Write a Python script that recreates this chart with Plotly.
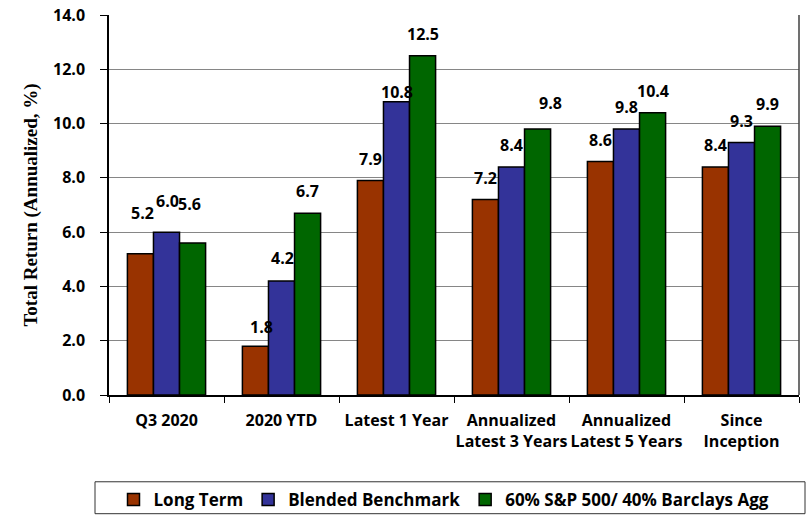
import plotly.graph_objects as go

categories = ["Q3 2020", "2020 YTD", "Latest 1 Year", "Annualized<br>Latest 3 Years",
              "Annualized<br>Latest 5 Years", "Since<br>Inception"]
series_names = ["Long Term", "Blended Benchmark", "60% S&P 500/ 40% Barclays Agg"]
long_term = [5.2, 1.8, 7.9, 7.2, 8.6, 8.4]
blended = [6.0, 4.2, 10.8, 8.4, 9.8, 9.3]
sp_barclays = [5.6, 6.7, 12.5, 9.8, 10.4, 9.9]
y_ticks = [0, 2, 4, 6, 8, 10, 12, 14]

colors = ["#993300", "#333399", "#006600"]
series_values = [long_term, blended, sp_barclays]

# label nudges (px) mimicking the reference's label placement: (series, category) -> (dx, dy)
label_nudges = {
    (0, 0): (2, 19), (1, 0): (1, 9), (2, 0): (-3, 17),
    (0, 1): (6, -3), (1, 1): (1, 1),
    (1, 2): (0, -12),
    (2, 3): (13, 4),
}

W, H = 806, 524
M = dict(l=109, r=7, t=15, b=128)
BARGAP = 0.32
plot_w = W - M["l"] - M["r"]
plot_h = H - M["t"] - M["b"]
bar_w = plot_w / len(categories) * (1 - BARGAP) / 3

FONT = "Open Sans"

fig = go.Figure()
for name, vals, col in zip(series_names, series_values, colors):
    fig.add_trace(go.Bar(
        x=categories, y=vals, name=name,
        marker=dict(color=col, line=dict(color="#000000", width=1.5)),
    ))

annotations = []
for si, vals in enumerate(series_values):
    for ci, v in enumerate(vals):
        dx, dy = label_nudges.get((si, ci), (0, 0))
        annotations.append(dict(
            x=categories[ci], y=v, xref="x", yref="y",
            text=f"{v:.1f}", showarrow=False,
            xshift=(si - 1) * bar_w + dx, yshift=22 + dy,
            font=dict(family=FONT, size=16, color="#000000", weight="bold"),
        ))

def px_to_paper_x(px):
    return (px - M["l"]) / plot_w

def px_to_paper_y(py):
    return (H - M["b"] - py) / plot_h

fig.update_layout(
    width=W, height=H,
    margin=M,
    paper_bgcolor="white", plot_bgcolor="white",
    barmode="group", bargap=BARGAP, bargroupgap=0,
    font=dict(family=FONT, color="#000000"),
    annotations=annotations,
    showlegend=True,
    legend=dict(
        orientation="h", x=px_to_paper_x(444), xanchor="center",
        y=px_to_paper_y(500), yanchor="middle",
        font=dict(family=FONT, size=17, color="#000000", weight="bold"),
        bgcolor="rgba(0,0,0,0)", borderwidth=0,
    ),
    shapes=[
        dict(type="rect", xref="paper", yref="paper",
             x0=px_to_paper_x(95), x1=px_to_paper_x(805),
             y0=px_to_paper_y(515), y1=px_to_paper_y(483),
             line=dict(color="#333333", width=1), fillcolor="rgba(0,0,0,0)", layer="above"),
        dict(type="line", xref="paper", yref="paper", x0=1, x1=1, y0=0, y1=1,
             line=dict(color="#404040", width=1.5)),
    ],
)

fig.update_xaxes(
    automargin=False, tickangle=0,
    showline=True, linecolor="#000000", linewidth=1.5,
    ticks="outside", tickson="boundaries", ticklen=6, tickcolor="#000000",
    ticklabelstandoff=10,
    tickfont=dict(family=FONT, size=16, color="#000000", weight="bold"),
    showgrid=False,
)
fig.update_yaxes(
    automargin=False,
    range=[0, 14], tickvals=y_ticks, tickformat=".1f",
    showline=True, linecolor="#000000", linewidth=1.5,
    ticks="outside", ticklen=7, tickcolor="#000000",
    ticklabelstandoff=12,
    tickfont=dict(family=FONT, size=16, color="#000000", weight="bold"),
    showgrid=True, gridcolor="#868686", gridwidth=1, zeroline=False,
    title=dict(text="Total Return (Annualized, %)", standoff=10,
               font=dict(family="Liberation Serif", size=19, color="#000000", weight="bold")),
)

fig.write_html("out.html", post_script="document.body.style.margin='0px';",
               config={"displayModeBar": False})
